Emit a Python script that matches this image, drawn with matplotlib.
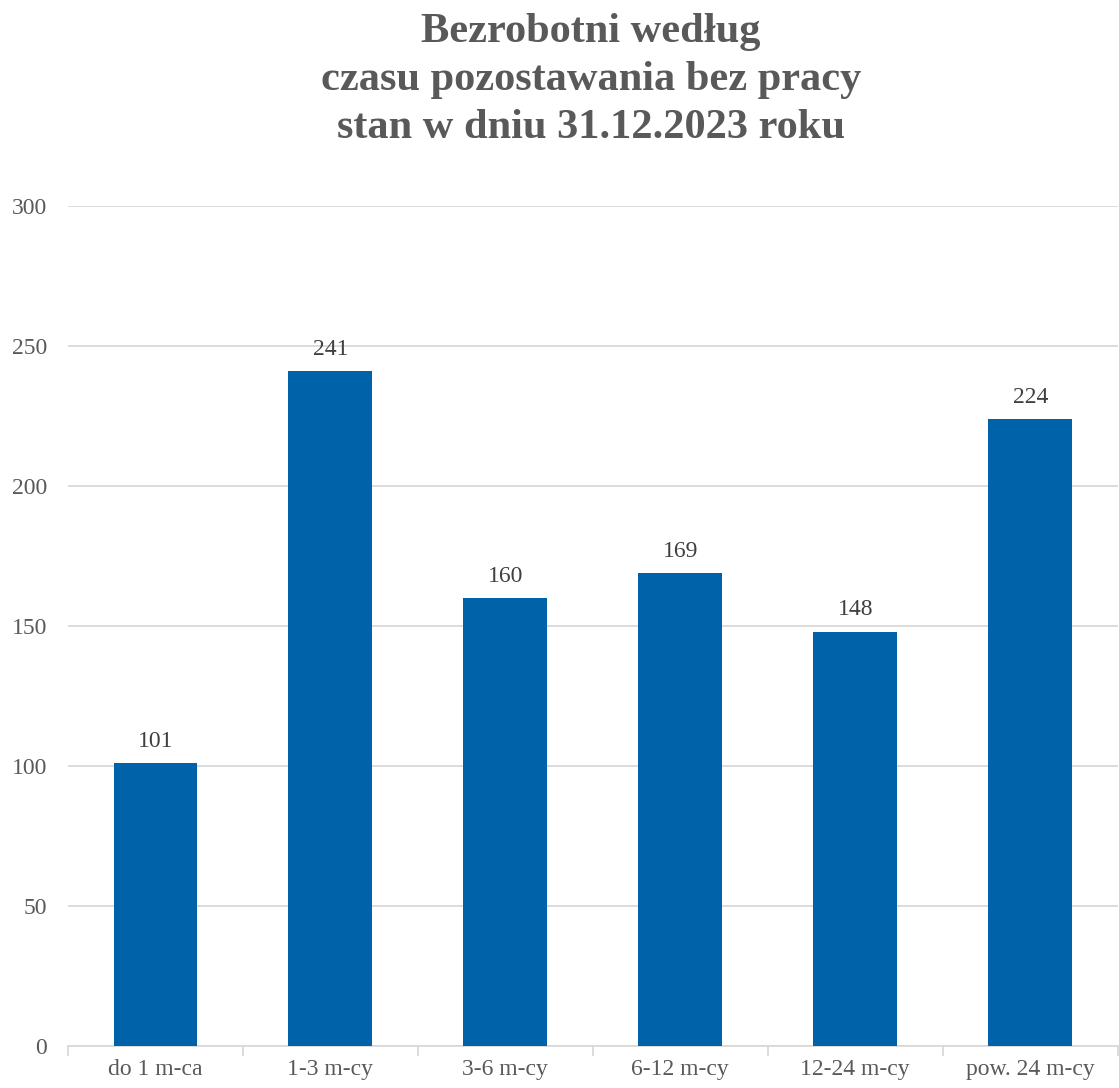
import matplotlib
matplotlib.use("Agg")
import numpy as np
from matplotlib import pyplot as plt

matplotlib.rcParams['font.family'] = ['Liberation Serif', 'DejaVu Serif']

categories = ["do 1 m-ca", "1-3 m-cy", "3-6 m-cy", "6-12 m-cy", "12-24 m-cy", "pow. 24 m-cy"]
values = [101, 241, 160, 169, 148, 224]
title = "Bezrobotni według\nczasu pozostawania bez pracy\nstan w dniu 31.12.2023 roku"

grey = "#595959"
bar_color = "#0062A8"

fig = plt.figure(figsize=(11.19, 10.88), dpi=100)
ax = fig.add_axes([0.0608, 0.0386, 0.938, 0.7721])

x = np.arange(len(categories))
ax.bar(x, values, width=0.48, color=bar_color, zorder=3)
for xi, v in zip(x, values):
    ax.annotate(str(v), (xi, v), xytext=(0, 8), textcoords="offset points",
                ha="center", va="bottom", fontsize=17, color="#404040")

ax.set_xlim(-0.5, len(categories) - 0.5)
ax.set_ylim(0, 300)
ax.set_yticks(range(0, 301, 50))
ax.yaxis.grid(True, color="#D9D9D9", linewidth=1.3, zorder=0)
ax.set_axisbelow(True)

ax.set_xticks(x)
ax.set_xticklabels(categories)
ax.set_xticks(np.arange(-0.5, len(categories), 1), minor=True)
ax.tick_params(axis="x", which="major", length=0, pad=9, labelsize=17, labelcolor=grey)
ax.tick_params(axis="x", which="minor", length=7, color="#D9D9D9", width=1.3)
ax.tick_params(axis="y", length=0, pad=15, labelsize=17, labelcolor=grey)

for s in ["top", "right", "left"]:
    ax.spines[s].set_visible(False)
ax.spines["bottom"].set_color("#D9D9D9")
ax.spines["bottom"].set_linewidth(1.3)

fig.text(0.528, 0.988, title, ha="center", va="top", fontsize=30.5,
         fontweight="bold", color=grey, linespacing=1.34)

fig.savefig("out.png", dpi=100)
